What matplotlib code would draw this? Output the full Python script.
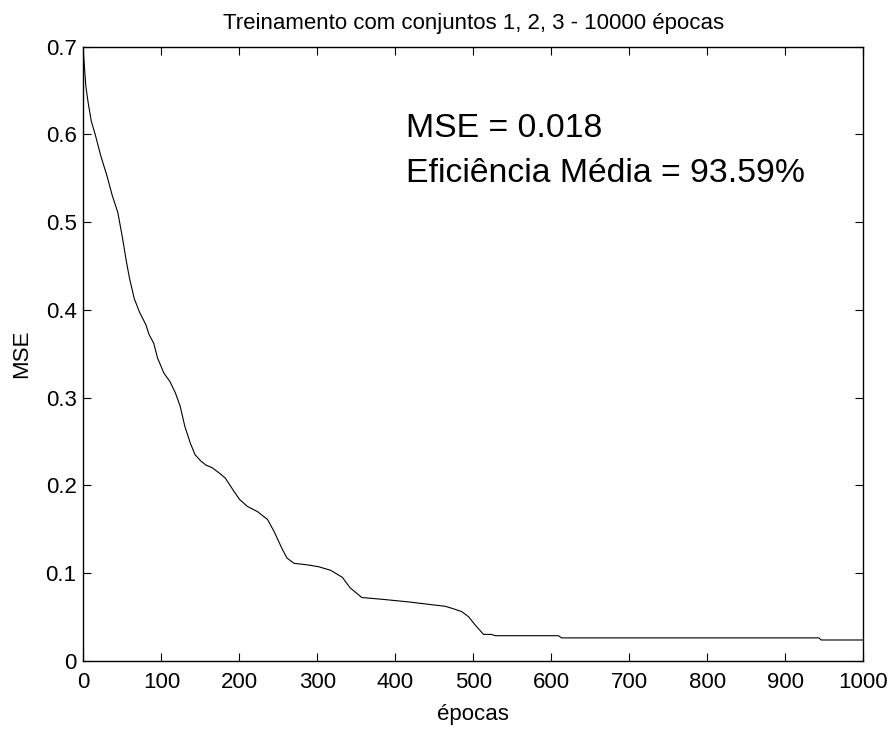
import matplotlib
matplotlib.use('Agg')
import matplotlib.pyplot as plt
import numpy as np

plt.rcParams['font.family'] = ['Liberation Sans', 'DejaVu Sans']

# curva de treinamento (MSE por época)
epocas = [0, 3, 6, 10, 15, 22, 30, 37, 44, 50, 55, 59, 65, 72, 80, 84, 90, 95,
          103, 111, 118, 124, 130, 137, 143, 150, 157, 165, 174, 182, 193, 200,
          210, 223, 236, 244, 255, 261, 270, 280, 289, 302, 317, 332, 342, 357,
          383, 417, 445, 464, 475, 485, 494, 502, 513, 523, 528, 609, 613, 943,
          946, 1000]
mse = [0.692, 0.655, 0.636, 0.615, 0.600, 0.576, 0.553, 0.530, 0.511, 0.482,
       0.455, 0.436, 0.413, 0.397, 0.383, 0.372, 0.362, 0.345, 0.328, 0.318,
       0.305, 0.290, 0.267, 0.248, 0.235, 0.228, 0.223, 0.220, 0.214, 0.208,
       0.193, 0.184, 0.176, 0.170, 0.161, 0.148, 0.127, 0.117, 0.111, 0.110,
       0.109, 0.107, 0.103, 0.095, 0.083, 0.072, 0.070, 0.067, 0.064, 0.062,
       0.059, 0.056, 0.050, 0.041, 0.030, 0.030, 0.0285, 0.0285, 0.026, 0.026,
       0.0236, 0.0236]

xticks = np.arange(0, 1001, 100)
yticks = [0, 0.1, 0.2, 0.3, 0.4, 0.5, 0.6, 0.7]
ytick_labels = ['0', '0.1', '0.2', '0.3', '0.4', '0.5', '0.6', '0.7']

fig = plt.figure(figsize=(8.93, 7.29), dpi=100)
ax = fig.add_axes([0.0935, 0.0937, 0.8732, 0.8423])

ax.plot(epocas, mse, color='black', linewidth=0.8)

ax.set_xlim(0, 1000)
ax.set_ylim(0, 0.7)
ax.set_xticks(xticks)
ax.set_yticks(yticks)
ax.set_yticklabels(ytick_labels)
ax.tick_params(direction='in', length=5.8, width=0.8, top=True, right=True,
               labelsize=16, pad=8)
ax.tick_params(axis='y', pad=5)
for s in ax.spines.values():
    s.set_linewidth(1.0)

ax.set_title('Treinamento com conjuntos 1, 2, 3 - 10000 épocas', fontsize=16, pad=13)
ax.set_xlabel('épocas', fontsize=16, labelpad=8)
ax.set_ylabel('MSE', fontsize=16, labelpad=10)

ax.text(413, 0.5975, 'MSE = 0.018', fontsize=24.3, va='baseline', ha='left')
ax.text(413, 0.546, 'Eficiência Média = 93.59%', fontsize=24.3, va='baseline', ha='left')

fig.savefig('out.png', dpi=100)
